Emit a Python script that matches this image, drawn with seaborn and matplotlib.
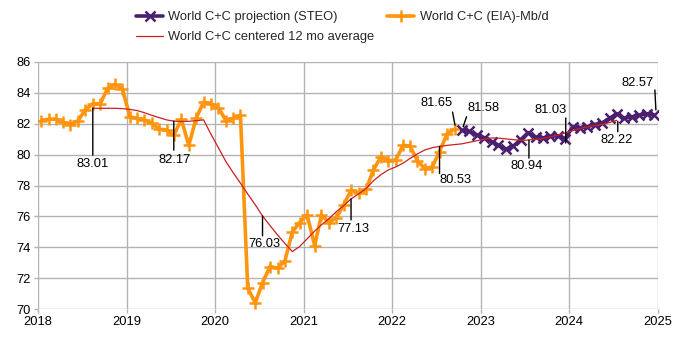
import numpy as np
import pandas as pd
import matplotlib
matplotlib.use("Agg")
import matplotlib.pyplot as plt
import matplotlib.transforms as mtransforms
import matplotlib.dates as mdates
from matplotlib.lines import Line2D
import seaborn as sns

# ---------------- data ----------------
eia_start = "2018-01"
eia_values = [
    82.2, 82.3, 82.3, 82.1, 81.95, 82.2, 82.9, 83.3, 83.3, 84.3, 84.55, 84.25,
    82.45, 82.35, 82.25, 82.05, 81.65, 81.6, 81.25, 82.3, 80.6, 82.35, 83.4, 83.3,
    83.05, 82.2, 82.35, 82.55, 71.35, 70.4, 71.7, 72.75, 72.65, 73.1, 75.0, 75.6,
    76.1, 74.1, 76.1, 75.6, 75.9, 76.75, 77.7, 77.5, 77.75, 79.0, 79.85, 79.6,
    79.65, 80.6, 80.55, 79.6, 79.1, 79.2, 80.2, 81.35, 81.65,
]
steo_start = "2022-10"
steo_values = [
    81.58, 81.5, 81.29,
    81.1, 80.85, 80.6, 80.35, 80.55, 80.97, 81.42, 81.14, 81.08, 81.18, 81.22, 81.03,
    81.8, 81.75, 81.8, 81.95, 82.05, 82.35, 82.65, 82.35, 82.45, 82.55, 82.65, 82.57,
]
avg_start = "2018-08"
avg_values = [
    83.01, 83.0, 83.0, 83.0, 82.98,
    82.93, 82.85, 82.72, 82.55, 82.4, 82.25, 82.17, 82.15, 82.16, 82.2, 82.25, 81.33,
    80.45, 79.55, 78.85, 78.15, 77.45, 76.75, 76.03, 75.4, 74.8, 74.25, 73.72, 74.05,
    74.55, 75.05, 75.45, 75.85, 76.3, 76.7, 77.13, 77.45, 77.8, 78.3, 78.7, 79.0,
    79.2, 79.45, 79.75, 80.05, 80.3, 80.45, 80.53, 80.6, 80.65, 80.7, 80.8, 80.9,
    81.0, 81.08, 81.07, 81.02, 80.97, 80.93, 80.94, 81.0, 81.05, 81.15, 81.27, 81.4,
    81.55, 81.7, 81.8, 81.88, 81.97, 82.08, 82.22,
]
y_ticks = [70, 72, 74, 76, 78, 80, 82, 84, 86]
x_years = [2018, 2019, 2020, 2021, 2022, 2023, 2024, 2025]

names = {
    "steo": "World C+C projection (STEO)",
    "eia": "World C+C (EIA)-Mb/d",
    "avg": "World C+C centered 12 mo average",
}


def monthly(start, values):
    d = pd.date_range(start=start + "-01", periods=len(values), freq="MS") + pd.Timedelta(days=14)
    return pd.DataFrame({"date": d, "value": values})


eia = monthly(eia_start, eia_values)
steo = monthly(steo_start, steo_values)
avg = monthly(avg_start, avg_values)

# ---------------- style ----------------
C_ORANGE = "#ff950e"
C_PURPLE = "#4b1f6f"
C_RED = "#c9211e"
C_GRID = "#b3b3b3"

sns.set_theme(style="white")
plt.rcParams["font.family"] = ["Liberation Sans", "DejaVu Sans"]
FS = 9.3

fig = plt.figure(figsize=(6.87, 3.41), dpi=100)
ax = fig.add_axes([38 / 687, 1 - 309 / 341, 620 / 687, 247 / 341])

sns.lineplot(data=eia, x="date", y="value", ax=ax, color=C_ORANGE, lw=2.6,
             marker="+", markersize=9, markeredgewidth=1.8, markeredgecolor=C_ORANGE,
             zorder=3, legend=False)
sns.lineplot(data=steo, x="date", y="value", ax=ax, color=C_PURPLE, lw=2.6,
             marker="x", markersize=7, markeredgewidth=1.8, markeredgecolor=C_PURPLE,
             zorder=4, legend=False)
sns.lineplot(data=avg, x="date", y="value", ax=ax, color=C_RED, lw=0.9,
             zorder=5, legend=False)

ax.set_xlim(pd.Timestamp(f"{x_years[0]}-01-01"), pd.Timestamp(f"{x_years[-1]}-01-01"))
ax.set_ylim(y_ticks[0], y_ticks[-1])
ax.set_xticks([pd.Timestamp(f"{y}-01-01") for y in x_years])
ax.set_xticklabels([str(y) for y in x_years])
ax.set_yticks(y_ticks)
ax.set_yticklabels([str(t) for t in y_ticks])
ax.set_xlabel("")
ax.set_ylabel("")
ax.grid(True, color=C_GRID, lw=1.0)
ax.set_axisbelow(True)
for s in ax.spines.values():
    s.set_visible(False)
ax.tick_params(axis="both", which="both", length=3, width=1, color=C_GRID,
               labelsize=FS, labelcolor="#000000", pad=2, left=True, bottom=True)

# ---------------- labels ----------------
def off(dx, dy):
    # dx, dy in image pixels (dy positive downward)
    return ax.transData + mtransforms.ScaledTranslation(dx / 100, -dy / 100, fig.dpi_scale_trans)


def pick(df, date):
    row = df[df["date"].dt.strftime("%Y-%m") == date].iloc[0]
    return mdates.date2num(row["date"]), row["value"]


labels = [
    # series, month, leader start, leader end, text centre
    (avg, "2018-08", (0, 0), (0, 47), (0, 56)),
    (avg, "2019-07", (0, 0), (0, 29), (1, 39)),
    (avg, "2020-07", (0, 0), (0, 20), (1.5, 28)),
    (avg, "2021-07", (0, 0), (0, 21), (2, 30)),
    (avg, "2022-07", (0, 0), (0, 27), (16, 34)),
    (eia, "2022-09", (-2, -17), (0.4, -4), (-18, -26)),
    (steo, "2022-10", (4.7, -13.5), (1.3, -3.5), (21.5, -22)),
    (steo, "2023-12", (0.6, -20.7), (0.6, 4.3), (-15, -28.7)),
    (avg, "2023-07", (0.9, 0), (0.9, 18), (-1, 26)),
    (avg, "2024-07", (1, 1), (1, 11.4), (-0.4, 19.7)),
    (steo, "2024-12", (1, -25), (2, -5), (-16, -32)),
]
for df, month, p0, p1, tp in labels:
    x, v = pick(df, month)
    ax.annotate("", xy=(x, v), xycoords=off(*p1), xytext=(x, v), textcoords=off(*p0),
                arrowprops=dict(arrowstyle="-", lw=1.0, color="black", shrinkA=0, shrinkB=0),
                annotation_clip=False, zorder=6)
    ax.text(x, v, f"{v:.2f}", transform=off(*tp), ha="center", va="center",
            fontsize=FS, color="#000000", zorder=7, clip_on=False)

# ---------------- legend ----------------
handles = [
    Line2D([], [], color=C_PURPLE, lw=2.6, marker="x", markersize=7, markeredgewidth=1.8),
    Line2D([], [], color=C_RED, lw=0.9),
    Line2D([], [], color=C_ORANGE, lw=2.6, marker="+", markersize=9, markeredgewidth=1.8),
]
lab = [names["steo"], names["avg"], names["eia"]]
fig.legend(handles, lab, loc="upper left", bbox_to_anchor=(136 / 687, 1 - 11 / 341),
           ncol=2, frameon=False, fontsize=FS, handlelength=2.1, handletextpad=0.4,
           columnspacing=1.0, labelspacing=0.62, borderaxespad=0, borderpad=0)

fig.savefig("out.png", dpi=100)
